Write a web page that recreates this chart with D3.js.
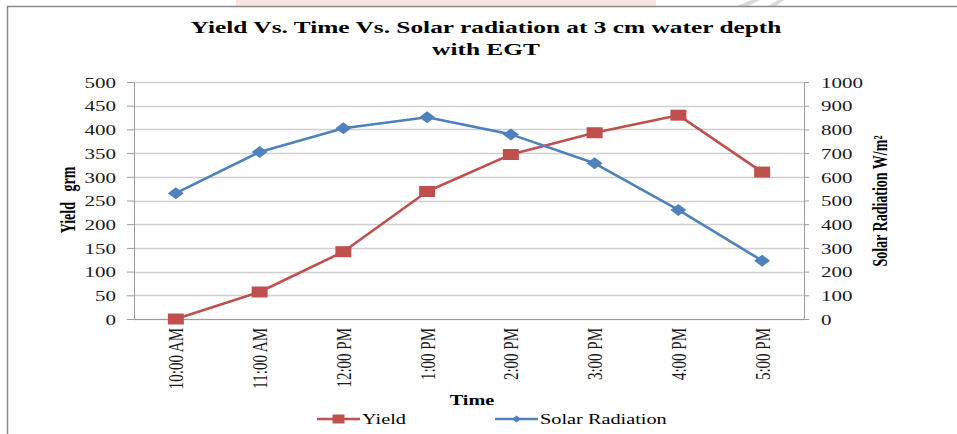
<!DOCTYPE html>
<html>
<head>
<meta charset="utf-8">
<script src="https://cdn.jsdelivr.net/npm/d3@7/dist/d3.min.js"></script>
<style>
	body { margin: 0; background: #fff; }
	svg text { font-family: "Liberation Serif", "Times New Roman", serif; }
</style>
</head>
<body>
<div id="chart-area"></div>
<script>
// Data
var times = ["10:00 AM", "11:00 AM", "12:00 PM", "1:00 PM", "2:00 PM", "3:00 PM", "4:00 PM", "5:00 PM"];
var yieldValues = [0, 57, 142, 269, 347, 393, 430, 310];
var solarValues = [531, 705, 805, 851, 779, 657, 460, 246];
var yieldTicks = [0, 50, 100, 150, 200, 250, 300, 350, 400, 450, 500];
var solarTicks = [0, 100, 200, 300, 400, 500, 600, 700, 800, 900, 1000];

// Colors
var yieldColor = "#c0504d";
var solarColor = "#4f81bd";
var axisColor = "#9c9c9c";
var gridColor = "#d0d0d0";

// the source picture is stretched sideways, so text gets the same stretch
var SX = 1.45;
function stretch(x, y) {
	return "translate(" + x + "," + y + ") scale(" + SX + ",1)";
}

// Canvas Size
var canvasWidth = 957;
var canvasHeight = 434;

// Plot area (screen px)
var plot = {left: 134, right: 804, top: 82, bottom: 319};

var svg = d3.select("#chart-area")
	.append("svg")
	.attr("width", canvasWidth)
	.attr("height", canvasHeight);

// Cropped page header above the chart
svg.append("rect")
	.attr("x", 236).attr("y", 0)
	.attr("width", 420).attr("height", 6)
	.attr("fill", "#fde3de");
svg.append("path")
	.attr("d", "M737,6 L752,0 L760,0 L748,6 Z M768,6 L778,0 L784,0 L776,6 Z")
	.attr("fill", "#d9d9d9");
svg.append("clipPath").attr("id", "topclip")
	.append("rect").attr("x", 0).attr("y", 0).attr("width", 236).attr("height", 6);
svg.append("text")
	.attr("clip-path", "url(#topclip)")
	.attr("transform", stretch(232, 2.5))
	.attr("text-anchor", "end")
	.attr("font-size", 18)
	.attr("font-weight", "bold")
	.text("r of water with EGT");

// Chart border
svg.append("rect")
	.attr("x", 7.5).attr("y", 6.5)
	.attr("width", 1000).attr("height", 500)
	.attr("fill", "none")
	.attr("stroke", "#8a8a8a")
	.attr("stroke-width", 1.5);

// Scales
var x = d3.scaleBand()
	.domain(times)
	.range([plot.left, plot.right]);

var yLeft = d3.scaleLinear()
	.domain([0, 500])
	.range([plot.bottom, plot.top]);

var yRight = d3.scaleLinear()
	.domain([0, 1000])
	.range([plot.bottom, plot.top]);

function cx(d, i) { return x(times[i]) + x.bandwidth() / 2; }

// Gridlines
svg.append("g")
	.selectAll("line")
	.data(yieldTicks)
	.join("line")
	.attr("x1", plot.left)
	.attr("x2", plot.right)
	.attr("y1", function(d) { return Math.round(yLeft(d)) + 0.5; })
	.attr("y2", function(d) { return Math.round(yLeft(d)) + 0.5; })
	.attr("stroke", gridColor)
	.attr("stroke-width", 1.3);

// Left axis
var leftAxis = svg.append("g")
	.attr("transform", "translate(" + plot.left + ",0)")
	.call(d3.axisLeft(yLeft).tickValues(yieldTicks).tickFormat(d3.format("d")).tickSize(7).tickSizeOuter(0));
leftAxis.select(".domain").attr("stroke", axisColor);
leftAxis.selectAll(".tick line").attr("stroke", axisColor);
leftAxis.selectAll(".tick text")
	.attr("x", 0)
	.attr("dy", "0.36em")
	.attr("transform", "translate(-18,0) scale(" + SX + ",1)")
	.attr("font-size", 14.5)
	.attr("font-family", "Liberation Serif")
	.attr("fill", "#1a1a1a");

// Right axis
var rightAxis = svg.append("g")
	.attr("transform", "translate(" + plot.right + ",0)")
	.call(d3.axisRight(yRight).tickValues(solarTicks).tickFormat(d3.format("d")).tickSize(5).tickSizeOuter(0));
rightAxis.select(".domain").attr("stroke", axisColor);
rightAxis.selectAll(".tick line").attr("stroke", axisColor);
rightAxis.selectAll(".tick text")
	.attr("x", 0)
	.attr("dy", "0.36em")
	.attr("transform", "translate(17,0) scale(" + SX + ",1)")
	.attr("font-size", 14.5)
	.attr("font-family", "Liberation Serif")
	.attr("fill", "#1a1a1a");

// Bottom axis
var bottomAxis = svg.append("g")
	.attr("transform", "translate(0," + plot.bottom + ")")
	.call(d3.axisBottom(x).tickSize(0).tickSizeOuter(0));
bottomAxis.select(".domain").attr("stroke", axisColor);
bottomAxis.selectAll(".tick text")
	.attr("x", 0)
	.attr("y", 0)
	.attr("dy", "0.35em")
	.attr("text-anchor", "end")
	.attr("transform", "translate(0,9) scale(" + SX + ",1) rotate(-90)")
	.attr("font-size", 15)
	.attr("font-family", "Liberation Serif")
	.attr("fill", "#1a1a1a");

// Title
var title = svg.append("text")
	.attr("text-anchor", "middle")
	.attr("font-size", 17.5)
	.attr("font-weight", "bold")
	.attr("transform", stretch(486, 0));
title.append("tspan").attr("x", 0).attr("y", 33).text("Yield Vs. Time Vs. Solar radiation at 3 cm water depth");
title.append("tspan").attr("x", 0).attr("y", 55).text("with EGT");

// Axis titles
svg.append("text")
	.attr("transform", stretch(68, 200) + " rotate(-90)")
	.attr("text-anchor", "middle")
	.attr("dy", "0.35em")
	.attr("font-size", 14)
	.attr("font-weight", "bold")
	.style("white-space", "pre")
	.text("Yield   grm");

svg.append("text")
	.attr("transform", stretch(880, 201) + " rotate(-90)")
	.attr("text-anchor", "middle")
	.attr("dy", "0.35em")
	.attr("font-size", 14)
	.attr("font-weight", "bold")
	.text("Solar Radiation W/m²");

svg.append("text")
	.attr("transform", stretch(472, 405))
	.attr("text-anchor", "middle")
	.attr("font-size", 14)
	.attr("font-weight", "bold")
	.text("Time");

// Lines
var yieldLine = d3.line().x(cx).y(function(d) { return yLeft(d); });
var solarLine = d3.line().x(cx).y(function(d) { return yRight(d); });

function squarePath(w, h) {
	return "M" + (-w / 2) + "," + (-h / 2) + "h" + w + "v" + h + "h" + (-w) + "Z";
}
function diamondPath(w, h) {
	return "M0," + (-h / 2) + "L" + (w / 2) + ",0L0," + (h / 2) + "L" + (-w / 2) + ",0Z";
}

svg.append("path")
	.datum(yieldValues)
	.attr("d", yieldLine)
	.attr("fill", "none")
	.attr("stroke", yieldColor)
	.attr("stroke-width", 2.6)
	.attr("stroke-linejoin", "round");

svg.append("g")
	.selectAll("path")
	.data(yieldValues)
	.join("path")
	.attr("transform", function(d, i) { return "translate(" + cx(d, i) + "," + yLeft(d) + ")"; })
	.attr("d", squarePath(16, 11))
	.attr("fill", yieldColor);

svg.append("path")
	.datum(solarValues)
	.attr("d", solarLine)
	.attr("fill", "none")
	.attr("stroke", solarColor)
	.attr("stroke-width", 2.6)
	.attr("stroke-linejoin", "round");

svg.append("g")
	.selectAll("path")
	.data(solarValues)
	.join("path")
	.attr("transform", function(d, i) { return "translate(" + cx(d, i) + "," + yRight(d) + ")"; })
	.attr("d", diamondPath(16, 12))
	.attr("fill", solarColor);

// Legend
var legendItems = [
	{name: "Yield", color: yieldColor, marker: squarePath(12, 9), x: 317},
	{name: "Solar Radiation", color: solarColor, marker: diamondPath(9, 7), x: 495}
];

var legend = svg.append("g").attr("transform", "translate(0,419)");
legendItems.forEach(function(item) {
	legend.append("line")
		.attr("x1", item.x).attr("x2", item.x + 43)
		.attr("stroke", item.color)
		.attr("stroke-width", 2.6);
	legend.append("path")
		.attr("transform", "translate(" + (item.x + 21.5) + ",0)")
		.attr("d", item.marker)
		.attr("fill", item.color);
	legend.append("text")
		.attr("transform", stretch(item.x + 45, 5))
		.attr("font-size", 14)
		.text(item.name);
});
</script>
</body>
</html>
